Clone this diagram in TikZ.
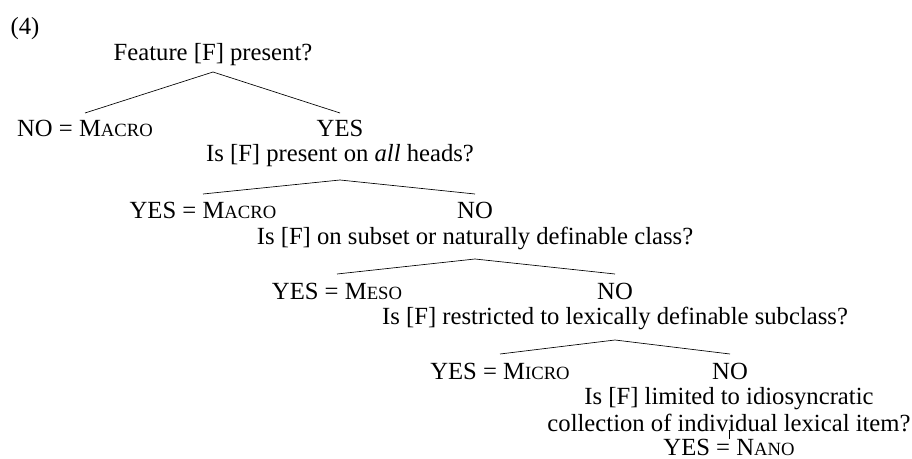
\documentclass[tikz,border=0pt]{standalone}
\usepackage{fontspec}
\setmainfont{Liberation Serif}
\usepackage{tikz}
\usetikzlibrary{shapes,arrows}

\newcommand{\smallcapsword}[2]{#1{\fontsize{14}{16}\selectfont #2}}

\tikzset{
	answer/.style={inner sep=0pt, anchor=base},
	question/.style={inner sep=0pt, anchor=base, align=center},
	branch/.style={draw, line width=0.5pt}
}

\begin{document}
\begin{tikzpicture}[x=0.75pt, y=-0.75pt, font=\fontsize{18.5}{20.25}\selectfont]
		\useasboundingbox (0,0) rectangle (912,459);
		
		\node (ex)[answer] at (25,35) {(4)};
		\node (q1)[question] at (213,61) {Feature [F] present?};
		
		\node (n1)[answer] at (85,137) {NO = \smallcapsword{M}{ACRO}};
		\node (y1)[answer] at (340,137) {YES};
		\node (q2)[question] at (340,162) {Is [F] present on \emph{all} heads?};
		
		\node (y2)[answer] at (203,219) {YES = \smallcapsword{M}{ACRO}};
		\node (n2)[answer] at (475,219) {NO};
		\node (q3)[question] at (475,245) {Is [F] on subset or naturally definable class?};
		
		\node (y3)[answer] at (337,299) {YES = \smallcapsword{M}{ESO}};
		\node (n3)[answer] at (615,299) {NO};
		\node (q4)[question] at (615,324) {Is [F] restricted to lexically definable subclass?};
		
		\node (y4)[answer] at (500,379) {YES = \smallcapsword{M}{ICRO}};
		\node (n4)[answer] at (730,379) {NO};
		% base of a two-line node is the baseline of its last line
		\node (q5)[question] at (729,431) {Is [F] limited to idiosyncratic\\collection of individual lexical item?};
		
		\node (y5)[answer] at (729,455) {YES = \smallcapsword{N}{ANO}};
		
		\coordinate (t1) at (213,72);
		\coordinate (l1) at (85,113);
		\coordinate (r1) at (340,113);
		\coordinate (t2) at (340,180);
		\coordinate (l2) at (203,194);
		\coordinate (r2) at (475,194);
		\coordinate (t3) at (475,259);
		\coordinate (l3) at (337,274);
		\coordinate (r3) at (615,274);
		\coordinate (t4) at (615,340);
		\coordinate (l4) at (500,354);
		\coordinate (r4) at (730,354);
		\coordinate (t5) at (729,430);
		\coordinate (b5) at (729,439);
		
		\draw[branch] (l1) -- (t1) -- (r1);
		\draw[branch] (l2) -- (t2) -- (r2);
		\draw[branch] (l3) -- (t3) -- (r3);
		\draw[branch] (l4) -- (t4) -- (r4);
		\draw[branch] (t5) -- (b5);
	\end{tikzpicture}
\end{document}
